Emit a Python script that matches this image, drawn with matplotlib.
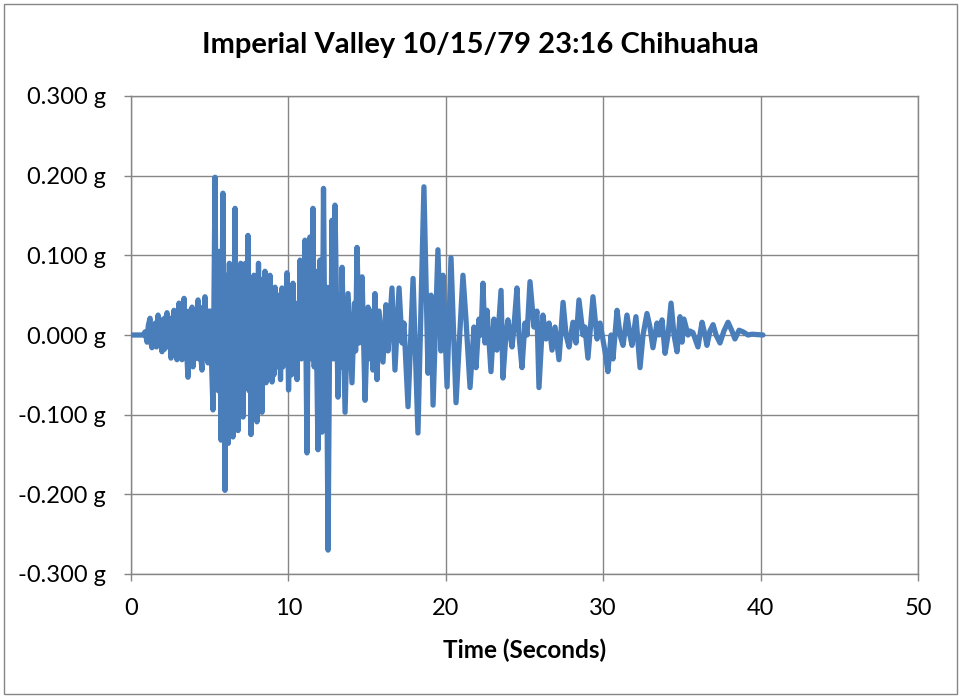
"""
Ground-motion record plot: Imperial Valley 10/15/79 23:16, Chihuahua station.
Values are read off the reference chart (peaks and troughs of the trace).
"""

import matplotlib

matplotlib.use("Agg")
import matplotlib.pyplot as plt
from matplotlib.patches import Rectangle
from matplotlib.ticker import FuncFormatter

plt.rcParams["font.family"] = ["Lato", "DejaVu Sans"]

TITLE = "Imperial Valley 10/15/79 23:16 Chihuahua"
X_LABEL = "Time (Seconds)"

# --- trace data: time (s) / acceleration (g), split by phase of the record ---
pre_time = [0.00, 0.76, 0.90, 1.02, 1.10, 1.21, 1.27, 1.33, 1.40, 1.47, 1.55,
            1.62, 1.72, 1.80, 1.88, 1.97, 2.05, 2.12, 2.20, 2.29, 2.36, 2.42,
            2.54, 2.62, 2.68, 2.73, 2.80, 2.86, 2.92, 2.98, 3.05, 3.12, 3.18,
            3.24, 3.30, 3.37, 3.44, 3.50, 3.56, 3.62, 3.70, 3.76, 3.82, 3.88,
            3.94, 4.00, 4.07, 4.14, 4.20, 4.26, 4.33, 4.40, 4.45, 4.51, 4.58,
            4.64, 4.70, 4.77, 4.83, 4.89, 4.96, 5.02]
pre_acc = [0.000, 0.000, 0.004, -0.009, 0.012, 0.021, -0.010, -0.016, 0.012,
           -0.012, 0.015, -0.015, 0.025, -0.012, 0.018, -0.021, 0.020, -0.018,
           0.020, 0.028, -0.015, 0.020, -0.029, 0.022, -0.020, 0.031, -0.018,
           0.022, -0.031, 0.020, 0.040, -0.020, 0.025, -0.031, 0.025, 0.046,
           -0.025, 0.030, -0.030, -0.053, 0.030, -0.025, 0.025, 0.035, -0.040,
           0.030, -0.030, 0.030, -0.025, 0.044, -0.030, 0.025, -0.030, -0.044,
           0.035, -0.020, 0.048, -0.030, 0.030, -0.035, 0.030, 0.030]

strong_time = [5.21, 5.34, 5.42, 5.50, 5.55, 5.60, 5.72, 5.84, 5.97, 6.03,
               6.09, 6.13, 6.18, 6.25, 6.31, 6.37, 6.48, 6.61, 6.68, 6.74,
               6.80, 6.87, 6.92, 6.97, 7.04, 7.08, 7.12, 7.18, 7.21, 7.27,
               7.34, 7.43, 7.50, 7.56, 7.62, 7.69, 7.74, 7.81, 7.88, 7.93,
               8.00, 8.10, 8.17, 8.23, 8.32, 8.39, 8.45, 8.51, 8.58, 8.64,
               8.70, 8.77, 8.80, 8.83, 8.96, 9.02, 9.08, 9.15, 9.21, 9.28,
               9.34, 9.40, 9.50, 9.59, 9.65, 9.72, 9.78, 9.91, 10.01, 10.10,
               10.20, 10.29, 10.36, 10.42, 10.55, 10.62, 10.67, 10.74, 10.82,
               10.88, 10.95, 11.05, 11.18, 11.27, 11.32, 11.37, 11.47, 11.56,
               11.64, 11.72, 11.88, 12.01, 12.13, 12.23, 12.33, 12.40, 12.52,
               12.64, 12.70, 12.77, 12.87, 12.96, 13.15, 13.28, 13.34, 13.41,
               13.60, 13.79, 14.04, 14.20, 14.27, 14.36, 14.49, 14.68, 14.87]
strong_acc = [-0.094, 0.198, -0.050, 0.070, -0.070, 0.105, -0.132, 0.178,
              -0.195, 0.075, -0.060, 0.060, -0.136, 0.090, -0.040, 0.085,
              -0.128, 0.159, -0.080, 0.080, -0.120, 0.050, -0.070, 0.090,
              -0.060, 0.070, -0.103, 0.060, -0.040, 0.090, -0.050, 0.125,
              -0.070, 0.060, -0.125, 0.050, -0.050, 0.075, -0.070, 0.040,
              -0.109, 0.090, -0.070, 0.070, -0.097, 0.060, -0.050, 0.080,
              -0.060, 0.050, -0.040, 0.060, -0.030, 0.075, -0.059, 0.040,
              -0.050, 0.060, -0.030, 0.045, -0.040, 0.050, -0.056, 0.059,
              -0.040, 0.040, -0.030, 0.078, -0.069, 0.040, -0.050, 0.065,
              -0.030, 0.040, -0.056, 0.040, -0.020, 0.094, -0.030, 0.050,
              -0.020, 0.119, -0.148, 0.060, -0.020, 0.123, -0.030, 0.159,
              -0.040, 0.080, -0.144, 0.094, -0.122, 0.184, -0.060, 0.060,
              -0.270, 0.060, -0.030, 0.144, -0.030, 0.163, -0.078, 0.050,
              -0.040, 0.085, -0.097, 0.052, -0.060, 0.040, -0.020, 0.110,
              -0.010, 0.073, -0.082]

mid_time = [15.06, 15.18, 15.28, 15.37, 15.50, 15.63, 15.76, 16.01, 16.20,
            16.33, 16.58, 16.77, 17.03, 17.22, 17.34, 17.60, 17.92, 18.23,
            18.61, 18.87, 19.06, 19.19, 19.50, 19.69, 19.82, 20.08, 20.33,
            20.65, 21.09, 21.28, 21.54, 21.79, 21.92, 22.11, 22.24, 22.36,
            22.49, 22.62, 22.87, 23.06, 23.25, 23.51, 23.63, 23.82, 23.95,
            24.21, 24.33, 24.52, 24.65, 24.84]
mid_acc = [0.035, -0.030, 0.030, -0.044, 0.052, -0.056, 0.030, -0.034, 0.038,
           -0.020, 0.059, -0.044, 0.059, -0.010, 0.015, -0.090, 0.071, -0.123,
           0.186, -0.048, 0.050, -0.088, 0.107, -0.020, 0.075, -0.065, 0.097,
           -0.085, 0.075, 0.020, -0.066, 0.010, -0.041, 0.020, 0.000, 0.065,
           -0.010, 0.031, -0.046, 0.020, -0.019, 0.056, -0.054, 0.000, 0.019,
           -0.015, 0.010, 0.059, 0.000, -0.041]

coda_time = [25.03, 25.16, 25.35, 25.60, 25.79, 25.92, 26.17, 26.37, 26.56,
             26.75, 26.94, 27.19, 27.45, 27.64, 27.83, 28.08, 28.27, 28.46,
             28.72, 28.84, 29.03, 29.35, 29.61, 29.80, 30.11, 30.30, 30.50,
             30.62, 30.88, 31.07, 31.26, 31.51, 31.70, 31.83, 32.08, 32.34,
             32.53, 32.78, 32.97, 33.16, 33.42, 33.54, 33.74, 33.93, 34.12,
             34.31, 34.50, 34.69, 34.88, 35.01, 35.13, 35.39, 35.51, 35.70,
             36.02, 36.28, 36.47, 36.59, 36.78, 36.98, 37.17, 37.42, 37.67,
             37.93, 38.18, 38.37, 38.63, 38.88, 39.20, 39.45, 40.15]
coda_acc = [0.015, 0.000, 0.067, 0.010, 0.030, -0.066, 0.025, -0.005, 0.015,
            -0.019, 0.010, -0.031, 0.041, 0.000, -0.015, 0.016, -0.010, 0.044,
            0.000, 0.010, -0.029, 0.048, -0.005, 0.015, -0.020, -0.046, 0.000,
            -0.030, 0.031, 0.000, -0.013, 0.025, 0.000, -0.013, 0.023, -0.041,
            0.000, 0.027, 0.010, -0.016, 0.015, 0.000, 0.019, -0.023, 0.000,
            0.040, 0.000, -0.021, 0.023, -0.009, 0.020, 0.000, 0.005, 0.003,
            -0.015, 0.016, 0.000, -0.013, 0.005, 0.013, 0.000, -0.010, 0.005,
            0.016, 0.005, -0.005, 0.006, 0.004, 0.000, 0.001, 0.000]

time_s = pre_time + strong_time + mid_time + coda_time
accel_g = pre_acc + strong_acc + mid_acc + coda_acc

x_ticks = [0, 10, 20, 30, 40, 50]
y_ticks = [-0.3, -0.2, -0.1, 0.0, 0.1, 0.2, 0.3]

LINE_BLUE = "#4A7EBB"
GRID_GREY = "#868686"

fig = plt.figure(figsize=(9.61, 6.98), dpi=100)
fig.patches.append(Rectangle((0.004, 0.006), 0.992, 0.988, transform=fig.transFigure,
                             fill=False, edgecolor=GRID_GREY, linewidth=1.0))

ax = fig.add_axes([131 / 961, 1 - 574 / 698, 787 / 961, 478 / 698])
ax.plot(time_s, accel_g, color=LINE_BLUE, linewidth=3.8, solid_joinstyle="round",
        solid_capstyle="round", zorder=3)

ax.set_xlim(0, 50)
ax.set_ylim(-0.3, 0.3)
ax.set_xticks(x_ticks)
ax.set_yticks(y_ticks)
ax.yaxis.set_major_formatter(FuncFormatter(lambda v, _: f"{v:.3f} g"))
ax.grid(True, color=GRID_GREY, linewidth=1.0, zorder=0)
for side in ax.spines.values():
    side.set_color(GRID_GREY)
    side.set_linewidth(1.0)
ax.tick_params(axis="both", colors=GRID_GREY, length=5, width=1.0, labelcolor="black",
               labelsize=17)
ax.tick_params(axis="y", pad=13)
ax.tick_params(axis="x", pad=12)

ax.set_xlabel(X_LABEL, fontsize=17.5, fontweight="bold", labelpad=14)
fig.text(0.5, 1 - 45 / 698, TITLE, ha="center", va="center", fontsize=21,
         fontweight="bold")

fig.savefig("out.png", dpi=100)
